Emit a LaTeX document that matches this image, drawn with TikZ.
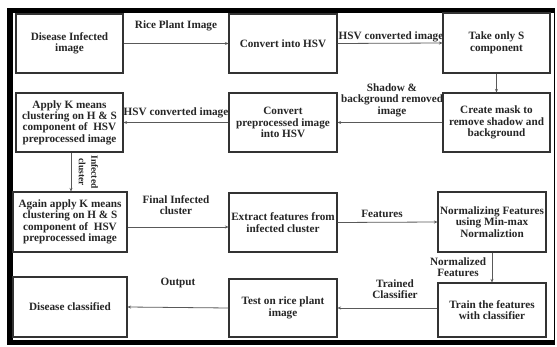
\documentclass[tikz,border=0pt]{standalone}
\usepackage{fontspec}
\setmainfont{Liberation Serif}
\usetikzlibrary{arrows.meta}
\begin{document}
\begin{tikzpicture}[x=1pt,y=-1pt,
  font=\fontsize{11.2}{11.4}\selectfont\bfseries,
  stagebox/.style={draw=black!80,line width=1.1pt,inner sep=0pt,align=center,text=black!85},
  flow/.style={draw=black!65,line width=0.8pt,-{Stealth[length=3.5pt,width=3pt]}},
  lab/.style={inner sep=0pt,align=center,text=black!85}]
\useasboundingbox (0,0) rectangle (557,347);
% frame
\fill[black] (7,8) rectangle (555,345.5);
\fill[white] (13,13.5) rectangle (553.5,340);
% boxes
\node[stagebox,minimum width=107pt,minimum height=59pt] (A) at (69.5,43.5) {Disease Infected\\image};
\node[stagebox,minimum width=108pt,minimum height=59pt] (B) at (283,43.5) {Convert into HSV};
\node[stagebox,minimum width=107pt,minimum height=60pt] (C) at (496.5,43) {Take only S\\component};
\node[stagebox,minimum width=107pt,minimum height=59pt] (D) at (496.5,122.5) {Create mask to\\remove shadow and\\background};
\node[stagebox,minimum width=108pt,minimum height=59pt] (E) at (283,122.5) {Convert\\preprocessed image\\into HSV};
\node[stagebox,minimum width=107pt,minimum height=59pt] (F) at (69.5,122.5) {Apply K means\\clustering on H \& S\\component of \ HSV\\preprocessed image};
\node[stagebox,minimum width=114pt,minimum height=60pt] (G) at (70,222) {Again apply K means\\clustering on H \& S\\component of \ HSV\\preprocessed image};
\node[stagebox,minimum width=108pt,minimum height=59pt] (H) at (283,222.5) {Extract features from\\infected cluster};
\node[stagebox,minimum width=108pt,minimum height=60pt] (I) at (492,222) {Normalizing Features\\using Min-max\\Normaliztion};
\node[stagebox,minimum width=108pt,minimum height=54pt] (J) at (492,310) {Train the features\\with classifier};
\node[stagebox,minimum width=108pt,minimum height=58pt] (K) at (283,308) {Test on rice plant\\image};
\node[stagebox,minimum width=114pt,minimum height=60pt] (L) at (70,307) {Disease classified};
% connectors
\draw[flow] (A.east) -- (B.west);
\draw[flow] (B.east) -- (C.west);
\draw[flow] (C.south) -- (D.north);
\draw[flow] (D.west) -- (E.east);
\draw[flow] (E.west) -- (F.east);
\draw[flow] ([xshift=1.5pt]F.south) -- ([xshift=1.5pt]F.south |- G.north);
\draw[flow] ([yshift=-5pt]G.east) -- ([yshift=-5pt]G.east -| H.west);
\draw[flow] (H.east) -- (I.west);
\draw[flow] (I.south) -- (J.north);
\draw[flow] (J.west |- K.east) -- (K.east);
\draw[flow] (K.west) -- (L.east);
% labels
\node[lab] (l1) at (176,26) {Rice Plant Image};
\node[lab] (l2) at (391,37) {HSV converted image};
\node[lab] (l3) at (392,100) {Shadow \&\\background removed\\image};
\node[lab] (l4) at (176,113) {HSV converted image};
\node[lab,rotate=-90,font=\fontsize{9.5}{12.5}\selectfont\bfseries] (l5) at (88.5,172) {Infected\\cluster};
\node[lab] (l6) at (176,205) {Final Infected\\cluster};
\node[lab] (l7) at (382,214) {Features};
\node[lab] (l8) at (458,267) {Normalized\\Features};
\node[lab] (l9) at (395,289) {Trained\\Classifier};
\node[lab] (l10) at (178,283) {Output};
\end{tikzpicture}
\end{document}
